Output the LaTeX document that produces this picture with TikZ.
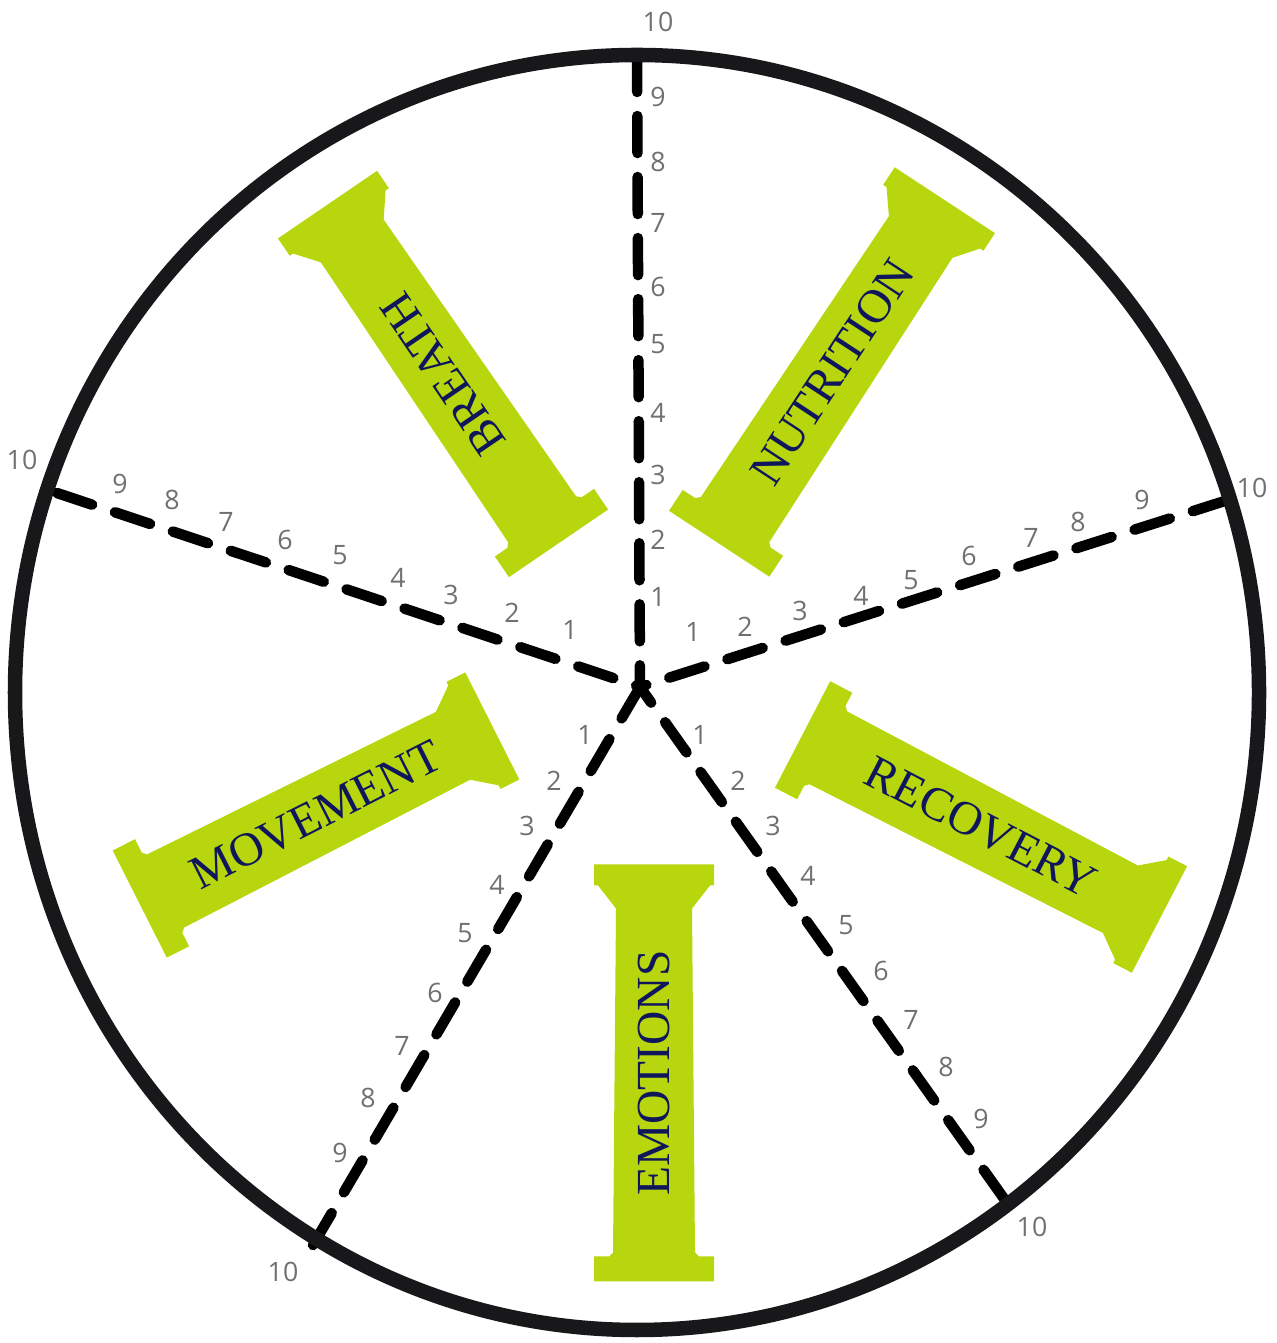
\documentclass[tikz,border=0pt]{standalone}
\usepackage{fontspec}
\setmainfont{Liberation Serif}
\newfontfamily\digitfont{Open Sans}
\usetikzlibrary{calc}

\definecolor{pillargreen}{RGB}{184,214,14}
\definecolor{pillarnavy}{RGB}{16,22,92}
\definecolor{scoregray}{RGB}{112,112,112}
\definecolor{rimblack}{RGB}{24,24,26}

\begin{document}
\begin{tikzpicture}[x=0.01cm, y=0.01cm,
	rim/.style={draw=rimblack, line width=0.145cm},
	spoke/.style={draw=black, line width=0.105cm, line cap=round, dash pattern=on 0.37cm off 0.24cm},
	scorelabel/.style={font=\digitfont\fontsize{7.6}{9}\selectfont, text=scoregray, inner sep=0pt},
	pillarbody/.style={fill=pillargreen},
	pillarlabel/.style={font=\fontsize{13.5}{16}\selectfont, text=pillarnavy, inner sep=0pt}]
	
	\useasboundingbox (0,0) rectangle (1277,1343);
	
	% ── Pilares ─────────────────────────────────────────────────────────
	\foreach \name/\cx/\cy/\ang/\len/\word in {
		breath/443/969/124.3/410/BREATH,
		nutrition/832/971/56.7/411/NUTRITION,
		movement/316/528/26.8/395/MOVEMENT,
		recovery/981/516/-27.4/402/RECOVERY,
		emotions/654/270/90/417/EMOTIONS}{
		\pgfmathsetmacro{\hl}{\len/2}
		\begin{scope}[shift={(\cx,\cy)}, rotate=\ang]
			\fill[pillarbody] ({-\hl},60) -- ({-\hl+25},60) -- ({-\hl+25},45) -- ({-\hl+29},41)
			-- ({\hl-44},38) -- ({\hl-21},56) -- ({\hl-21},60) -- (\hl,60)
			-- (\hl,-60) -- ({\hl-21},-60) -- ({\hl-21},-56) -- ({\hl-44},-38)
			-- ({-\hl+29},-41) -- ({-\hl+25},-45) -- ({-\hl+25},-60) -- ({-\hl},-60) -- cycle;
		\end{scope}
		\node[pillarlabel, rotate=\ang] (\name) at (\cx,\cy) {\word};
	}
	
	% ── Radios punteados ────────────────────────────────────────────────
	\coordinate (hub) at (640,656);
	\coordinate (endT) at (637,1288);
	\coordinate (endL) at (57,850);
	\coordinate (endR) at (1228,843);
	\coordinate (endBL) at (313,98);
	\coordinate (endBR) at (1005,143);
	\foreach \e in {endT,endL,endR,endBL,endBR}{
		\draw[spoke] (\e) -- (hub);
	}
	
	% ── Circulo exterior ────────────────────────────────────────────────
	\draw[rim] (637,650.5) ellipse [x radius=622, y radius=637.5];
	
	% ── Escalas 1-10 ────────────────────────────────────────────────────
	\foreach \k/\x/\y in {1/658/746,2/658/803,3/658/868,4/658/930,5/658/999,
		6/658/1056,7/658/1120,8/658/1181,9/658/1246,10/658/1321}{
		\node[scorelabel] (sT\k) at (\x,\y) {\k};
	}
	\foreach \k/\x/\y in {1/570/713,2/512/730,3/451/748,4/398/765,5/340/788,
		6/285/803,7/226/821,8/172/843,9/120/859,10/22/883}{
		\node[scorelabel] (sL\k) at (\x,\y) {\k};
	}
	\foreach \k/\x/\y in {1/693/711,2/745/716,3/800/732,4/861/747,5/911/763,
		6/969/787,7/1031/805,8/1078/821,9/1142/843,10/1252/855}{
		\node[scorelabel] (sR\k) at (\x,\y) {\k};
	}
	\foreach \k/\x/\y in {1/585/608,2/554/562,3/527/517,4/497/458,5/465/410,
		6/435/350,7/402/297,8/368/245,9/340/190,10/283/71}{
		\node[scorelabel] (sBL\k) at (\x,\y) {\k};
	}
	\foreach \k/\x/\y in {1/700/608,2/738/562,3/773/517,4/808/467,5/846/418,
		6/881/372,7/911/323,8/946/276,9/981/224,10/1032/116}{
		\node[scorelabel] (sBR\k) at (\x,\y) {\k};
	}
	
\end{tikzpicture}
\end{document}
